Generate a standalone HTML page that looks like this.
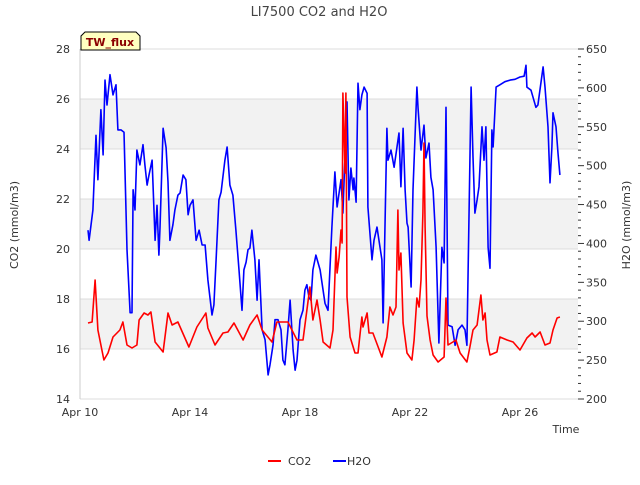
<!DOCTYPE html>
<html><head><meta charset="utf-8"><style>
body{margin:0;background:#fff;font-family:"Liberation Sans","DejaVu Sans",sans-serif;}
svg text{font-family:"DejaVu Sans","Liberation Sans",sans-serif;}
</style></head><body>
<svg id="chart" width="640" height="480" xmlns="http://www.w3.org/2000/svg">
<text x="319" y="16" text-anchor="middle" font-size="13" fill="#444">LI7500 CO2 and H2O</text>
<g id="bands"></g>
<g id="grid"></g>
<line x1="80" y1="49" x2="80" y2="399" stroke="#ccc"/>
<g id="axes"></g>
<g id="series"></g>
<text x="566" y="433" text-anchor="middle" font-size="11" fill="#333">Time</text>
<text transform="translate(18,225) rotate(-90)" text-anchor="middle" font-size="11" fill="#333">CO2 (mmol/m3)</text>
<text transform="translate(630,225) rotate(-90)" text-anchor="middle" font-size="11" fill="#333">H2O (mmol/m3)</text>
<g>
<path d="M81,50 L81,36 L85,32 L136,32 L140,36 L140,50 Z" fill="#ffffc0" stroke="#000" stroke-width="1"/>
<text x="110" y="46" text-anchor="middle" font-size="11" font-weight="bold" fill="#8b0000">TW_flux</text>
</g>
<g>
<line x1="268" y1="461" x2="281" y2="461" stroke="#f00" stroke-width="2"/>
<text x="288" y="465" font-size="11" fill="#333">CO2</text>
<line x1="333" y1="461" x2="346" y2="461" stroke="#00f" stroke-width="2"/>
<text x="347" y="465" font-size="11" fill="#333">H2O</text>
</g>
</svg>
<script>
const xTickLabels=["Apr 10","Apr 14","Apr 18","Apr 22","Apr 26"];
const xTickDays=[0,4,8,12,16];
const leftTicks=[14,16,18,20,22,24,26,28];
const rightTicks=[200,250,300,350,400,450,500,550,600,650];
const co2Days=[.29,.44,.55,.65,.87,1.02,1.2,1.45,1.56,1.71,1.89,2.07,2.15,2.33,2.47,2.58,2.73,3.02,3.2,3.35,3.56,3.96,4.25,4.58,4.65,4.91,5.2,5.38,5.6,5.93,6.18,6.44,6.62,6.98,7.16,7.56,7.89,8.11,8.36,8.47,8.62,8.73,8.84,9.09,9.2,9.31,9.35,9.42,9.49,9.53,9.56,9.64,9.67,9.71,9.82,10,10.11,10.25,10.29,10.44,10.51,10.65,10.98,11.16,11.27,11.38,11.49,11.56,11.6,11.67,11.75,11.89,12.07,12.15,12.25,12.33,12.4,12.47,12.51,12.55,12.62,12.73,12.84,13.02,13.24,13.31,13.38,13.56,13.67,13.82,14.07,14.18,14.29,14.44,14.58,14.65,14.73,14.8,14.91,15.16,15.27,15.53,15.75,16,16.25,16.44,16.55,16.73,16.91,17.09,17.2,17.35,17.45];
const co2Values=[17.04,17.08,18.76,16.76,15.56,15.84,16.48,16.76,17.08,16.16,16.04,16.16,17.16,17.44,17.36,17.48,16.28,15.88,17.44,16.96,17.08,16.08,16.88,17.44,16.84,16.16,16.64,16.68,17.04,16.36,16.96,17.36,16.76,16.28,17.08,17.08,16.36,16.36,18.48,17.16,17.96,17.16,16.28,16.04,16.76,20.08,19.04,19.68,20.76,20.24,26.24,23.04,26.24,18.08,16.48,15.84,15.84,17.28,16.88,17.44,16.64,16.64,15.68,16.48,17.68,17.36,17.68,21.56,19.16,19.84,17.04,15.84,15.56,16.36,18.04,17.68,18.76,21.44,24.24,20.88,17.32,16.36,15.76,15.48,15.68,18.04,16.16,16.28,16.36,15.84,15.48,16.08,16.76,16.96,18.16,17.16,17.44,16.36,15.76,15.88,16.48,16.36,16.28,15.96,16.44,16.64,16.48,16.68,16.16,16.24,16.76,17.24,17.28];
const h2oDays=[.29,.33,.47,.58,.65,.76,.84,.91,.98,1.09,1.2,1.31,1.38,1.49,1.6,1.71,1.82,1.89,1.93,2,2.07,2.18,2.29,2.36,2.44,2.51,2.62,2.73,2.8,2.87,2.91,3.02,3.13,3.2,3.27,3.38,3.45,3.56,3.64,3.75,3.85,3.93,4,4.11,4.22,4.33,4.44,4.55,4.65,4.8,4.87,4.95,5.05,5.13,5.27,5.35,5.45,5.56,5.67,5.78,5.89,5.96,6.04,6.11,6.18,6.25,6.36,6.44,6.51,6.62,6.73,6.84,6.91,7.02,7.09,7.2,7.31,7.38,7.45,7.56,7.64,7.75,7.82,7.89,8,8.11,8.18,8.25,8.33,8.4,8.47,8.58,8.73,8.91,9.02,9.16,9.27,9.35,9.42,9.49,9.56,9.71,9.78,9.85,9.93,9.96,10.04,10.11,10.18,10.25,10.33,10.44,10.47,10.62,10.69,10.8,10.91,10.98,11.02,11.16,11.2,11.31,11.42,11.6,11.67,11.75,11.82,11.89,11.93,12.04,12.11,12.25,12.29,12.4,12.51,12.58,12.69,12.76,12.84,12.95,13.05,13.16,13.24,13.31,13.38,13.53,13.64,13.75,13.89,14,14.07,14.22,14.29,14.36,14.44,14.51,14.62,14.69,14.76,14.84,14.91,14.98,15.02,15.13,15.27,15.45,15.64,15.82,16,16.15,16.22,16.25,16.4,16.58,16.65,16.84,16.91,17.02,17.09,17.16,17.2,17.31,17.38,17.45];
const h2oValues=[417,404,443,539,482,572,514,610,578,617,591,604,546,546,543,392,311,311,469,443,520,501,527,501,475,488,507,404,449,385,420,548,523,479,404,424,443,462,465,488,482,437,449,456,404,417,398,398,353,308,321,379,456,466,507,524,475,462,417,366,314,366,376,392,394,417,379,327,379,289,276,231,244,269,302,302,289,250,244,289,327,263,237,250,302,314,340,347,330,327,366,385,366,323,314,421,492,447,465,482,439,582,456,497,469,484,453,606,572,591,601,593,447,379,404,421,395,379,298,548,507,520,498,542,473,548,469,426,421,344,469,601,575,520,552,510,529,485,469,395,272,395,375,575,295,293,269,289,295,289,269,601,511,439,456,473,550,507,550,395,368,546,524,601,604,608,610,611,614,615,629,601,597,575,578,627,601,550,478,524,568,550,516,488];

const NS="http://www.w3.org/2000/svg";
const PL=80,PR=578,PT=49,PB=399;
const xs=d=>PL+d*27.5;
const yL=v=>PT+(28-v)*(PB-PT)/14;
const yR=v=>PT+(650-v)*(PB-PT)/450;
function mk(tag,attrs,parent){const e=document.createElementNS(NS,tag);for(const k in attrs)e.setAttribute(k,attrs[k]);parent.appendChild(e);return e;}
const bands=document.getElementById('bands'),grid=document.getElementById('grid'),axes=document.getElementById('axes'),series=document.getElementById('series');
mk('rect',{x:PL,y:PT,width:PR-PL,height:PB-PT,fill:'#fff'},bands);
[16,20,24].forEach(v=>{const r=mk('rect',{x:PL,y:yL(v+2),width:PR-PL,height:yL(v)-yL(v+2),fill:'#f2f2f2'},bands);

});
leftTicks.forEach(v=>{const l=mk('line',{x1:PL,x2:PR,y1:yL(v),y2:yL(v),stroke:'#dcdcdc'},grid);


const t=mk('text',{x:PL-10,y:yL(v)+4,'text-anchor':'end','font-size':'11',fill:'#333'},axes);t.textContent=v;

});
for(let v=200;v<=650;v+=10){const major=v%50===0;mk('line',{x1:PR,x2:PR+(major?6:3),y1:yR(v),y2:yR(v),stroke:'#333'},axes);}
rightTicks.forEach(v=>{const t=mk('text',{x:PR+8,y:yR(v)+4,'font-size':'11',fill:'#333'},axes);t.textContent=v;

});
xTickDays.forEach((d,i)=>{const t=mk('text',{x:xs(d),y:PB+17,'text-anchor':'middle','font-size':'11',fill:'#333'},axes);t.textContent=xTickLabels[i];

});
function line(days,vals,yf,color,name){const p=mk('polyline',{points:days.map((d,i)=>xs(d).toFixed(1)+','+yf(vals[i]).toFixed(1)).join(' '),fill:'none',stroke:color,'stroke-width':'1.6','stroke-linejoin':'round'},series);

}
line(h2oDays,h2oValues,yR,'#0000ff','h2o-line');
line(co2Days,co2Values,yL,'#ff0000','co2-line');
</script>
</body></html>
